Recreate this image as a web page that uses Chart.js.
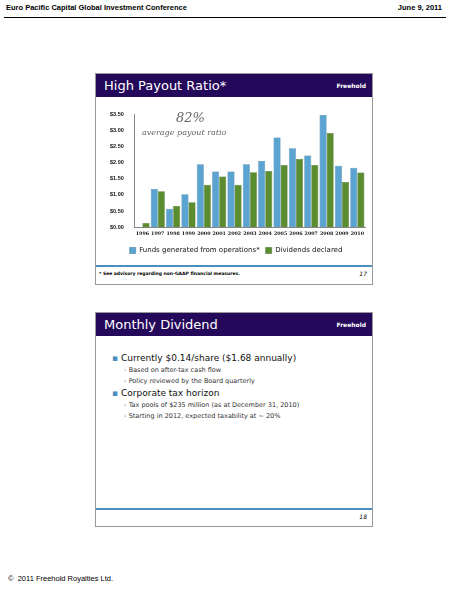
<!DOCTYPE html>
<html><head><meta charset="utf-8">
<script src="https://cdn.jsdelivr.net/npm/chart.js@4"></script>
<style>
body{margin:0;width:464px;height:600px;background:#fff;font-family:"DejaVu Sans",sans-serif;position:relative;overflow:hidden}
.abs{position:absolute}
.slide{position:absolute;left:95px;width:276px;border:1px solid #999;background:#fff}
.bar{height:23px;background:#24085a;color:#fff;font-family:Verdana,"DejaVu Sans",sans-serif;font-size:13px;line-height:23px;padding-left:8px;position:relative}
.bar span{position:absolute;right:6px;top:0;font-size:6px;font-weight:bold}
ul{margin:0;padding:0;list-style:none}
</style></head><body>
<div class="abs" style="left:6px;top:3px;font-size:7.5px;font-weight:bold;font-family:'Liberation Sans',sans-serif">Euro Pacific Capital Global Investment Conference</div>
<div class="abs" style="right:22px;top:3px;font-size:7.5px;font-weight:bold;font-family:'Liberation Sans',sans-serif">June 9, 2011</div>
<div class="abs" style="left:4px;top:17px;width:442px;border-top:1px solid #000"></div>

<div class="slide" style="top:73px;height:210px">
  <div class="bar">High Payout Ratio*<span>Freehold</span></div>
  <div class="abs" style="left:1px;top:26px;width:272px;height:164px"><canvas id="c"></canvas></div>
  <div class="abs" style="left:80px;top:36px;font-size:13px;font-style:italic;color:#666;font-family:'DejaVu Serif',serif">82%</div>
  <div class="abs" style="left:46px;top:54px;font-size:8px;font-style:italic;color:#666;font-family:'DejaVu Serif',serif">average payout ratio</div>
  <div class="abs" style="left:0;top:191px;width:276px;border-top:2px solid #4a8fc0"></div>
  <div class="abs" style="left:3px;top:197px;font-size:4.5px;font-weight:bold">* See advisory regarding non-GAAP financial measures.</div>
  <div class="abs" style="right:5px;top:196px;font-size:6px;font-style:italic">17</div>
</div>

<div class="slide" style="top:312px;height:213px">
  <div class="bar">Monthly Dividend<span>Freehold</span></div>
  <ul class="abs" style="left:16px;top:40px;font-family:Verdana,'DejaVu Sans',sans-serif;color:#111">
    <li style="font-size:9px"><span style="color:#4a8fc0">▪</span> Currently $0.14/share ($1.68 annually)</li>
    <li style="font-size:6.5px;margin:3px 0 0 12px;color:#333"><span style="color:#999">›</span> Based on after-tax cash flow</li>
    <li style="font-size:6.5px;margin:3px 0 0 12px;color:#333"><span style="color:#999">›</span> Policy reviewed by the Board quarterly</li>
    <li style="font-size:9px;margin-top:3px"><span style="color:#4a8fc0">▪</span> Corporate tax horizon</li>
    <li style="font-size:6.5px;margin:3px 0 0 12px;color:#333"><span style="color:#999">›</span> Tax pools of $235 million (as at December 31, 2010)</li>
    <li style="font-size:6.5px;margin:3px 0 0 12px;color:#333"><span style="color:#999">›</span> Starting in 2012, expected taxability at ~ 20%</li>
  </ul>
  <div class="abs" style="left:0;top:195px;width:276px;border-top:2px solid #4a8fc0"></div>
  <div class="abs" style="right:5px;top:200px;font-size:6px;font-style:italic">18</div>
</div>

<div class="abs" style="left:8px;top:574px;font-size:7.5px;font-family:'Liberation Sans',sans-serif">©&nbsp; 2011 Freehold Royalties Ltd.</div>

<script>
const years = ['1996','1997','1998','1999','2000','2001','2002','2003','2004','2005','2006','2007','2008','2009','2010'];
const ffo = [0, 1.18, 0.57, 1.02, 1.95, 1.72, 1.72, 1.95, 2.05, 2.77, 2.44, 2.22, 3.47, 1.90, 1.84];
const dividends = [0.13, 1.11, 0.66, 0.77, 1.31, 1.57, 1.31, 1.70, 1.74, 1.92, 2.11, 1.92, 2.91, 1.40, 1.69];

new Chart(document.getElementById('c'), {
    type: 'bar',
    data: {
        labels: years,
        datasets: [
            { label: 'Funds generated from operations*', data: ffo, backgroundColor: '#5ba3d0', borderColor: '#2f6f99', borderWidth: 0.5 },
            { label: 'Dividends declared', data: dividends, backgroundColor: '#5b8c2f', borderColor: '#3d6620', borderWidth: 0.5 }
        ]
    },
    options: {
        responsive: true,
        maintainAspectRatio: false,
        animation: false,
        layout: { padding: { left: 10, right: 4, top: 14, bottom: 0 } },
        datasets: { bar: { categoryPercentage: 0.92, barPercentage: 1 } },
        plugins: {
            legend: {
                position: 'bottom',
                labels: { boxWidth: 6, boxHeight: 6, padding: 6, color: '#111', font: { size: 7, family: 'Verdana, DejaVu Sans' } }
            },
            tooltip: { enabled: false }
        },
        scales: {
            x: {
                grid: { display: false, drawTicks: false },
                border: { color: '#888' },
                ticks: { maxRotation: 0, minRotation: 0, autoSkip: false, color: '#111', font: { size: 4.8, weight: 'bold', family: 'DejaVu Serif' }, padding: 4 }
            },
            y: {
                min: 0, max: 3.5,
                grid: { display: false },
                border: { color: '#888' },
                ticks: { stepSize: 0.5, color: '#111', font: { size: 5.5, weight: 'bold' }, callback: v => '$' + v.toFixed(2) }
            }
        }
    }
});
</script>
</body></html>
